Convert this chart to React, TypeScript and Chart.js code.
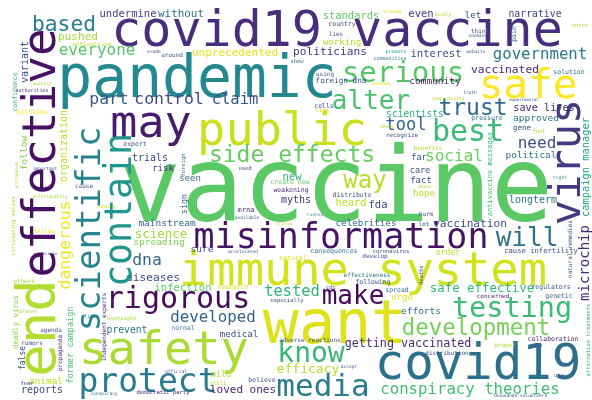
import React, { useEffect, useRef } from "react";
import { Chart, registerables } from "chart.js";

Chart.register(...registerables);

// Horizontal words: text, font size (weight), x centre, baseline y, colour
const hWords = [
  "covid19 vaccine", "pandemic", "vaccine", "may", "public", "serious", "alter", "best", "safe", "trust",
  "tool", "side effects", "misinformation", "will", "immune system", "want", "safety", "protect", "rigorous", "covid19",
  "media", "conspiracy theories", "testing", "development", "make", "know", "dna", "tested", "social", "need",
  "way", "everyone", "based", "government", "part", "control", "claim", "developed", "infection", "loved ones",
  "getting vaccinated", "efficacy", "prevent", "reports", "animal", "diseases", "vaccinated", "save lives", "approved", "narrative",
  "unprecedented", "politicians", "standards", "working", "interest", "community", "scientists", "foreign dna", "pushed", "undermine",
  "without", "longterm", "political", "cause infertility", "vaccination", "celebrities", "heard", "fda", "hope", "fact",
  "care", "far", "trials", "risk", "seen", "mainstream", "science", "spreading", "sure", "safe effective",
  "efforts", "urge", "medical", "mild", "expert", "create new", "weakening", "myths", "mrna", "available",
  "crisis", "used", "new", "accelerated", "natural", "benefits", "recognize", "distribute", "share", "harm",
  "lot", "rushed", "consequences", "coronavirus", "develop", "order", "right", "effectiveness", "following", "cdc",
  "spread", "especially", "research", "normal", "adverse reactions", "official", "still", "believe", "accept", "distribution",
  "thousands volunteers", "regulators", "concerned", "genetic", "collaboration", "proper", "hard", "use", "others", "proven",
  "agenda", "rumors", "fear", "elites", "oversight", "conspiracy", "democratic party", "important", "unfortunately", "fellow",
  "vulnerable", "cause", "funding", "quality", "authorities", "millions", "antivaccine", "erode", "around", "show",
  "country", "lies", "already", "even", "deadly", "promote", "communities", "using", "unknown", "cells",
  "live", "compromising", "among", "let", "think", "enemies", "enter", "website", "solution", "truth",
  "experimental", "pressure", "gene", "fool",
];
const hSizes = [
  50, 58, 103, 45, 47, 29, 26, 30, 41, 23,
  17, 23, 35, 26, 47, 60, 47, 33, 30, 49,
  31, 15.7, 28.5, 22.4, 26, 28, 16.4, 15.4, 16, 16,
  24, 15.9, 21.3, 15.7, 16.4, 16.5, 15.5, 15.8, 10.5, 11,
  11.7, 13, 9.7, 10, 9.4, 11.2, 11.3, 10.2, 9.5, 9.8,
  11, 11.2, 10.4, 9.2, 10.6, 9.5, 9.6, 7.7, 11.1, 10.5,
  10.9, 10, 9.4, 7.2, 11.2, 9.2, 10.3, 10.5, 9.1, 9,
  8.5, 8.5, 10, 9, 9, 9.5, 12.5, 9.5, 9.5, 12.4,
  9.5, 9, 9.2, 8.5, 6.5, 6.5, 6.5, 10, 7, 4.5,
  4.5, 5.5, 10.5, 4.5, 6.5, 6, 6, 6.5, 4.5, 6,
  6, 4.5, 6.5, 5.5, 6, 8, 5, 6, 6.5, 5.5,
  6.5, 5.5, 6.5, 6.5, 6, 4.5, 5.5, 6.5, 4.5, 6,
  4.5, 6.5, 6, 6.5, 6.5, 6, 4.5, 5.5, 6, 5,
  6, 6, 5.5, 4.5, 5.5, 4.5, 5.5, 4.5, 4.5, 6,
  4, 6, 4.5, 4.5, 5, 6.5, 6, 4.5, 6, 5.5,
  6.5, 6, 4.5, 10.5, 4.5, 5, 5, 6, 4.5, 6.5,
  5.5, 4.5, 4.5, 9, 6, 4.5, 5.5, 4.5, 6.5, 4.5,
  4, 6.5, 7.5, 5.5,
];
const hX = [
  337, 197, 336, 151, 282, 403, 371, 468, 528, 473,
  406, 292, 341, 527, 363, 335, 164, 148, 178, 478,
  323, 470, 512, 476, 353, 311, 147, 292, 454, 537,
  365, 97, 64, 540, 109, 169, 235, 213, 183, 243,
  408, 308, 127, 42, 46, 153, 505, 544, 536, 535,
  235, 330, 351, 342, 436, 435, 415, 341, 78, 128,
  181, 533, 531, 541, 470, 366, 351, 378, 424, 421,
  420, 419, 150, 163, 190, 167, 161, 159, 202, 482,
  421, 402, 239, 221, 135, 290, 291, 296, 246, 247,
  284, 245, 292, 243, 293, 428, 402, 352, 425, 426,
  424, 315, 334, 391, 375, 448, 560, 367, 373, 331,
  397, 287, 233, 183, 310, 176, 218, 262, 349, 447,
  520, 551, 493, 559, 553, 505, 537, 559, 24, 28,
  51, 32, 27, 90, 122, 104, 163, 45, 50, 44,
  45, 84, 106, 42, 32, 32, 92, 154, 172, 297,
  342, 336, 392, 421, 443, 396, 390, 325, 381, 324,
  322, 448, 387, 473, 480, 478, 580, 476, 569, 470,
  524, 487, 522, 539,
];
const hY = [
  46, 97, 221, 137, 145, 82, 109, 141, 98, 115,
  130, 162, 248, 246, 285, 343, 364, 392, 308, 379,
  396, 394, 317, 335, 304, 362, 265, 296, 161, 148,
  188, 55, 31, 59, 104, 104, 104, 322, 291, 393,
  347, 373, 333, 393, 384, 281, 73, 111, 121, 17,
  56, 55, 19, 45, 57, 84, 117, 83, 40, 17,
  17, 203, 158, 253, 227, 226, 206, 208, 196, 183,
  173, 160, 161, 171, 181, 226, 238, 245, 252, 292,
  314, 300, 337, 377, 146, 184, 192, 203, 212, 219,
  225, 170, 180, 253, 260, 150, 137, 197, 188, 216,
  226, 216, 253, 253, 258, 255, 179, 277, 284, 289,
  292, 302, 289, 330, 342, 373, 385, 382, 368, 355,
  397, 289, 298, 298, 341, 347, 347, 377, 283, 313,
  332, 345, 385, 318, 320, 395, 394, 170, 198, 233,
  255, 188, 208, 85, 92, 114, 46, 53, 57, 63,
  26, 36, 13, 17, 16, 53, 60, 76, 85, 108,
  112, 100, 128, 18, 33, 37, 27, 53, 74, 94,
  101, 120, 130, 133,
];
const hColors = [
  "#472d7b", "#23898e", "#5ac864", "#481b6d", "#c8e020", "#56c667", "#4ac16d", "#3aba76", "#fde725", "#2f6b8e",
  "#33638d", "#63cb5f", "#471365", "#2c728e", "#d2e21b", "#dde318", "#a8db34", "#297b8e", "#460b5e", "#2d708e",
  "#287c8e", "#40bd72", "#3bbb75", "#75d054", "#450a5c", "#37b878", "#33638d", "#2fb47c", "#6ccd5a", "#3d4e8a",
  "#bade28", "#54c568", "#277f8e", "#29798e", "#38598c", "#3e4989", "#3b528b", "#33638d", "#5ec962", "#481f70",
  "#482878", "#b5de2b", "#2c728e", "#414487", "#c2df23", "#3e4a89", "#482878", "#482878", "#2d708e", "#414487",
  "#e2e418", "#46337e", "#5ec962", "#b5de2b", "#3e4a89", "#481a6c", "#29af7f", "#3b528b", "#a0da39", "#424086",
  "#2c728e", "#2a788e", "#2c728e", "#3e4a89", "#3e4a89", "#31688e", "#c2df23", "#414487", "#b5de2b", "#3b528b",
  "#3b528b", "#3b528b", "#414487", "#482878", "#3b6e8c", "#31688e", "#a0da39", "#7ad151", "#3e4a89", "#35b779",
  "#2c728e", "#e7e419", "#3e4a89", "#b5de2b", "#3b528b", "#5ec962", "#482878", "#46337e", "#482878", "#3b528b",
  "#b5de2b", "#3b528b", "#35b779", "#3b528b", "#d8e219", "#addc30", "#3b528b", "#3b528b", "#a0da39", "#3b528b",
  "#3b528b", "#4d8ca0", "#2d708e", "#3b528b", "#3b528b", "#b5de2b", "#2a9d8f", "#2d708e", "#3b528b", "#3b528b",
  "#2d708e", "#3b528b", "#d8e219", "#4d8ca0", "#3b528b", "#3b528b", "#b5de2b", "#3b528b", "#3b528b", "#3b528b",
  "#3b528b", "#3b528b", "#482878", "#3b528b", "#482878", "#b5de2b", "#3b528b", "#3b528b", "#a0da39", "#a0da39",
  "#3b528b", "#3b528b", "#3b528b", "#3b528b", "#a0da39", "#2d708e", "#482878", "#3b528b", "#a0da39", "#fde725",
  "#3b528b", "#3b528b", "#d8e219", "#a0da39", "#482878", "#fde725", "#b5de2b", "#482878", "#3b528b", "#2c728e",
  "#3b528b", "#3b528b", "#d8e219", "#46337e", "#b5de2b", "#2a9d8f", "#2d708e", "#3b528b", "#d8e219", "#3b528b",
  "#d8e219", "#b5de2b", "#b5de2b", "#3b528b", "#3b528b", "#3b528b", "#addc30", "#3b528b", "#2d708e", "#3b528b",
  "#3b528b", "#2d708e", "#3b528b", "#addc30",
];

// Vertical words (read bottom to top): text, font size, baseline x, centre y, colour
const vWords = [
  "effective", "scientific", "contain", "end", "virus", "campaign manager", "microchip", "variant", "confidence", "organization",
  "dangerous", "follow", "antibodies", "circulating online", "deadly virus", "false", "propaganda", "former campaign", "independent experts", "foreign",
  "sign", "antivaccine messages", "natural remedies", "alternative treatments", "deaths", "pain",
];
const vSizes = [
  46, 34, 36.5, 54, 42, 10.4, 14, 10, 6.5, 10,
  16.4, 9.5, 4.5, 5.5, 7.5, 8, 6, 8.5, 6, 5.5,
  8.5, 7, 6, 5.5, 5.5, 6.5,
];
const vX = [
  55, 100, 131, 55, 580, 589, 589, 28, 17, 67,
  70, 27, 18, 15, 18, 25, 62, 73, 106, 185,
  187, 492, 572, 590, 423, 516,
];
const vY = [
  153, 229, 210, 328, 162, 167, 263, 62, 92, 146,
  245, 153, 175, 226, 322, 358, 353, 345, 327, 165,
  204, 174, 249, 340, 275, 34,
];
const vColors = [
  "#471063", "#25848e", "#1f968b", "#b0dd2f", "#443a83", "#22a785", "#472a7a", "#3b528b", "#35b779", "#bddf26",
  "#f1e51d", "#86d549", "#a0da39", "#a0da39", "#86d549", "#3b528b", "#482878", "#4ac16d", "#482878", "#3b6e8c",
  "#3b6e8c", "#35b779", "#3b528b", "#35b779", "#3b528b", "#2d708e",
];

const FONT = '"DejaVu Sans Mono", monospace';

const wordPlugin = {
  id: "wordcloud",
  afterDatasetsDraw(chart: any) {
    const ctx = chart.ctx;
    const xs = chart.scales.x;
    const ys = chart.scales.y;
    const draw = (text: string, size: number, x: number, y: number, color: string, vertical: boolean) => {
      const px = xs.getPixelForValue(x);
      const py = ys.getPixelForValue(y);
      ctx.save();
      ctx.translate(px, py);
      if (vertical) ctx.rotate(-Math.PI / 2);
      ctx.font = `${size}px ${FONT}`;
      ctx.fillStyle = color;
      ctx.textAlign = "center";
      ctx.textBaseline = "alphabetic";
      ctx.fillText(text, 0, 0);
      ctx.restore();
    };
    hWords.forEach((w, i) => draw(w, hSizes[i], hX[i], hY[i], hColors[i], false));
    vWords.forEach((w, i) => draw(w, vSizes[i], vX[i], vY[i], vColors[i], true));
  },
};

export default function App() {
  const ref = useRef<HTMLCanvasElement | null>(null);
  useEffect(() => {
    if (!ref.current) return;
    const points = [
      ...hWords.map((_, i) => ({ x: hX[i], y: hY[i] })),
      ...vWords.map((_, i) => ({ x: vX[i], y: vY[i] })),
    ];
    const chart = new Chart(ref.current, {
      type: "scatter",
      data: { datasets: [{ data: points, pointRadius: 0, pointHoverRadius: 0 }] },
      options: {
        animation: false,
        responsive: false,
        devicePixelRatio: 1,
        layout: { padding: 0 },
        events: [],
        plugins: { legend: { display: false }, tooltip: { enabled: false } },
        scales: {
          x: { type: "linear", min: 0, max: 592, display: false },
          y: { type: "linear", min: 0, max: 400, reverse: true, display: false },
        },
      },
      plugins: [wordPlugin],
    });
    return () => chart.destroy();
  }, []);
  return (
    <div style={{ position: "fixed", left: 0, top: 0, width: 592, height: 400, background: "#fff" }}>
      <canvas ref={ref} width={592} height={400} style={{ display: "block" }} />
    </div>
  );
}
